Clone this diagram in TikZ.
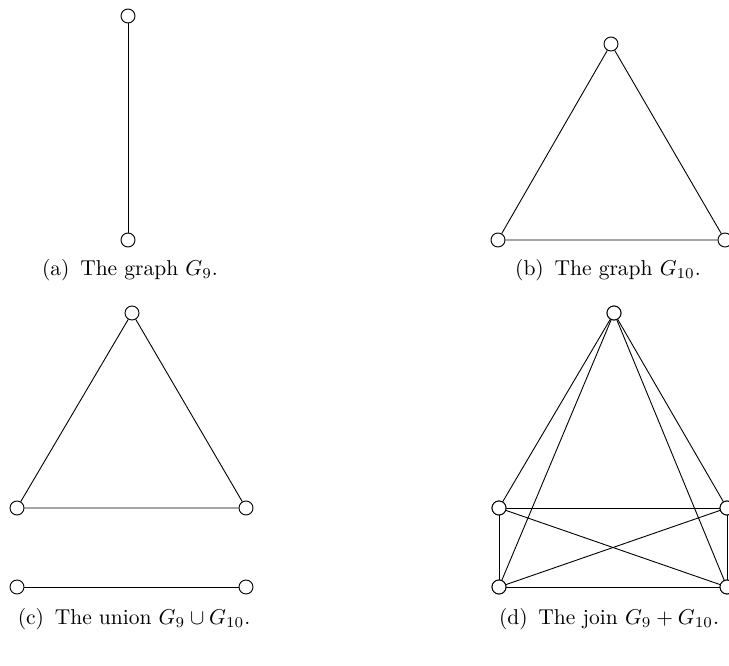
\documentclass[tikz,border=0pt]{standalone}
\usepackage{graphicx}
\newcommand{\capscale}[1]{\scalebox{2.15}{#1}}
\tikzset{
  vtx/.style={circle,draw,fill=white,inner sep=0pt,minimum size=14pt,line width=0.9pt},
  edge/.style={line width=0.9pt},
  captext/.style={inner sep=0pt,anchor=base}
}
\begin{document}
\begin{tikzpicture}[x=1pt,y=-1pt]
\useasboundingbox (0,0) rectangle (729,666);
% (a)
\node[vtx] (a1) at (128,16) {};
\node[vtx] (a2) at (128,240) {};
\draw[edge] (a1) -- (a2);
\node[captext] (ca) at (130,275) {\capscale{(a)\enspace The graph $G_9$.}};
% (b)
\node[vtx] (b1) at (611,44) {};
\node[vtx] (b2) at (498,240) {};
\node[vtx] (b3) at (725,240) {};
\draw[edge] (b1) -- (b2) -- (b3) -- (b1);
\node[captext] (cb) at (608,275) {\capscale{(b)\enspace The graph $G_{10}$.}};
% (c)
\node[vtx] (c1) at (132,313) {};
\node[vtx] (c2) at (17,508) {};
\node[vtx] (c3) at (246,508) {};
\node[vtx] (c4) at (17,587) {};
\node[vtx] (c5) at (246,587) {};
\draw[edge] (c1) -- (c2) -- (c3) -- (c1);
\draw[edge] (c4) -- (c5);
\node[captext] (cc) at (134,624) {\capscale{(c)\enspace The union $G_9\cup G_{10}$.}};
% (d)
\node[vtx] (d1) at (614,313) {};
\node[vtx] (d2) at (499,508) {};
\node[vtx] (d3) at (727,508) {};
\node[vtx] (d4) at (499,587) {};
\node[vtx] (d5) at (727,587) {};
\foreach \v in {d2,d3,d4,d5} \draw[edge] (d1) -- (\v);
\draw[edge] (d2) -- (d3) -- (d5) -- (d4) -- (d2);
\draw[edge] (d2) -- (d5);
\draw[edge] (d3) -- (d4);
\foreach \v in {d1,d2,d3,d4,d5} \node[vtx] at (\v) {};
\node[captext] (cd) at (609,624) {\capscale{(d)\enspace The join $G_9+G_{10}$.}};
\end{tikzpicture}
\end{document}
